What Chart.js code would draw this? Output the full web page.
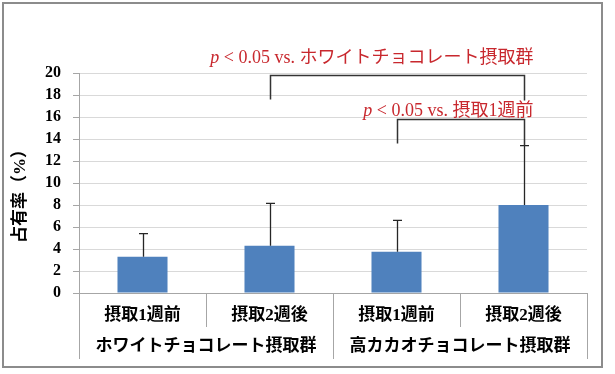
<!DOCTYPE html>
<html>
<head>
<meta charset="utf-8">
<script src="https://cdn.jsdelivr.net/npm/chart.js@4.4.0/dist/chart.umd.min.js"></script>
<style>
  html, body { margin: 0; padding: 0; background: #fff; }
  canvas { display: block; }
</style>
</head>
<body>
<canvas id="chart" width="615" height="374"></canvas>
<script>
// data
var subLabels = ['摂取1週前', '摂取2週後', '摂取1週前', '摂取2週後'];
var groupLabels = ['ホワイトチョコレート摂取群', '高カカオチョコレート摂取群'];
var means = [3.3, 4.3, 3.75, 8.0];
var sdTop = [5.4, 8.15, 6.6, 13.4];
var yTitle = '占有率（%）';

// significance brackets
var bracketFrom = [1, 2];
var bracketTo = [3, 3];
var bracketTop = [19.8, 15.8];
var bracketLeftEnd = [17.6, 13.6];
var bracketRightEnd = [17.5, 13.4];
var bracketText = ['ホワイトチョコレート摂取群', '摂取1週前'];
var bracketTextLevel = [21.35, 16.5];

var serif = "'Liberation Serif', 'Noto Sans CJK JP'";

var extras = {
    id: 'extras',
    afterDatasetsDraw: function(chart) {
        var ctx = chart.ctx;
        var x = chart.scales.x, y = chart.scales.y;
        ctx.save();

        // error bars (upper only)
        ctx.strokeStyle = '#262626';
        ctx.lineWidth = 1.3;
        means.forEach(function(m, i) {
            var cx = Math.round(x.getPixelForValue(i)) + 0.5;
            var y0 = y.getPixelForValue(m), y1 = y.getPixelForValue(sdTop[i]);
            ctx.beginPath();
            ctx.moveTo(cx, y0);
            ctx.lineTo(cx, y1);
            ctx.moveTo(cx - 4.5, y1);
            ctx.lineTo(cx + 4.5, y1);
            ctx.stroke();
        });

        // brackets + red labels
        ctx.strokeStyle = '#333';
        ctx.lineWidth = 1.5;
        bracketFrom.forEach(function(f, k) {
            var xl = Math.round(x.getPixelForValue(f)) + 0.5;
            var xr = Math.round(x.getPixelForValue(bracketTo[k])) + 0.5;
            var yt = Math.round(y.getPixelForValue(bracketTop[k])) + 0.5;
            ctx.beginPath();
            ctx.moveTo(xl, y.getPixelForValue(bracketLeftEnd[k]));
            ctx.lineTo(xl, yt);
            ctx.lineTo(xr, yt);
            ctx.lineTo(xr, y.getPixelForValue(bracketRightEnd[k]));
            ctx.stroke();

            var ty = y.getPixelForValue(bracketTextLevel[k]);
            var pFont = 'italic 18px ' + serif;
            var restFont = '18px ' + serif;
            var rest = ' < 0.05 vs. ' + bracketText[k];
            ctx.font = pFont;
            var wp = ctx.measureText('p').width;
            ctx.font = restFont;
            var wr = ctx.measureText(rest).width;
            var right = xr + 9;
            ctx.fillStyle = '#c8282e';
            ctx.textBaseline = 'middle';
            ctx.textAlign = 'left';
            ctx.font = pFont;
            ctx.fillText('p', right - wr - wp, ty);
            ctx.font = restFont;
            ctx.fillText(rest, right - wr, ty);
        });

        // category dividers below the axis
        var bottom = chart.chartArea.bottom;
        var step = (x.right - x.left) / subLabels.length;
        ctx.strokeStyle = '#a6a6a6';
        ctx.lineWidth = 1;
        for (var i = 0; i <= subLabels.length; i++) {
            var lx = Math.round(x.left + i * step) + 0.5;
            var len = (i % 2 === 0) ? 66 : 34;
            ctx.beginPath();
            ctx.moveTo(lx, bottom);
            ctx.lineTo(lx, bottom + len);
            ctx.stroke();
        }

        // two rows of category labels
        ctx.fillStyle = '#000';
        ctx.textAlign = 'center';
        ctx.textBaseline = 'middle';
        ctx.font = 'bold 17px ' + serif;
        subLabels.forEach(function(lbl, i) {
            ctx.fillText(lbl, x.getPixelForValue(i), bottom + 23);
        });
        groupLabels.forEach(function(lbl, g) {
            ctx.fillText(lbl, x.left + (g * 2 + 1) * step, bottom + 54);
        });

        // y title
        ctx.translate(21, 192);
        ctx.rotate(-Math.PI / 2);
        ctx.font = 'bold 17px ' + serif;
        ctx.fillText(yTitle, 0, 0);
        ctx.restore();

        // outer frame
        ctx.save();
        ctx.strokeStyle = '#8c8c8c';
        ctx.lineWidth = 2;
        ctx.strokeRect(3, 3, 599, 364);
        ctx.restore();
    }
};

var chart = new Chart(document.getElementById('chart').getContext('2d'), {
    type: 'bar',
    data: {
        labels: subLabels,
        datasets: [{
            data: means,
            backgroundColor: '#4f81bd',
            borderWidth: 0,
            barPercentage: 0.394,
            categoryPercentage: 1
        }]
    },
    options: {
        responsive: false,
        animation: false,
        layout: { padding: { top: 73, left: 0, right: 28, bottom: 0 } },
        plugins: {
            legend: { display: false },
            tooltip: { enabled: false },
            title: { display: false }
        },
        scales: {
            x: {
                grid: { display: false },
                border: { color: '#a6a6a6' },
                ticks: { display: false },
                afterFit: function(s) { s.height = 81; }
            },
            y: {
                min: 0,
                max: 20,
                ticks: {
                    stepSize: 2,
                    autoSkip: false,
                    color: '#000',
                    padding: 12,
                    font: { family: serif, size: 16, weight: 'bold' }
                },
                grid: { color: '#d9d9d9', tickColor: '#a6a6a6', tickLength: 6 },
                border: { color: '#a6a6a6' },
                afterFit: function(s) { s.width = 79; }
            }
        }
    },
    plugins: [extras]
});
</script>
</body>
</html>
